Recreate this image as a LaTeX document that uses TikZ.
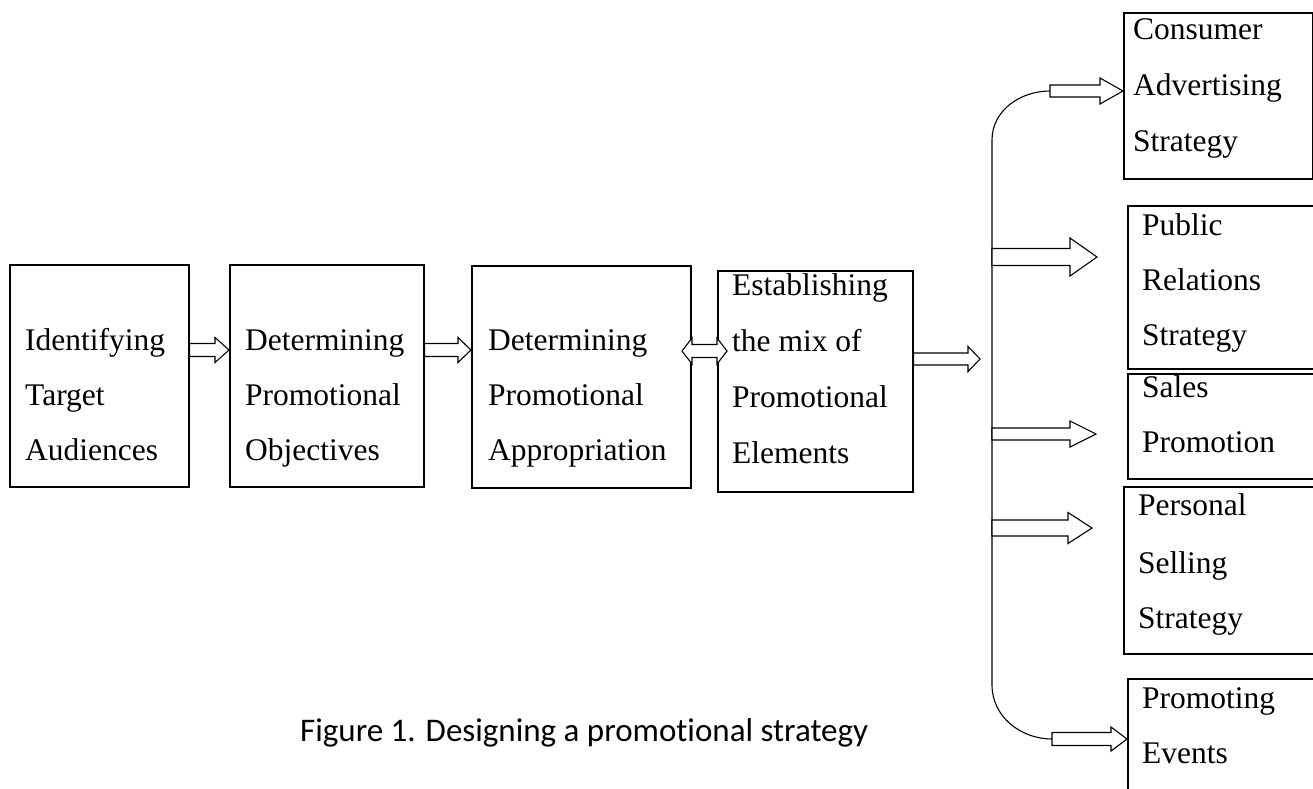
\documentclass[tikz,border=0pt]{standalone}
\usepackage{fontspec}
\setmainfont{Liberation Serif}
\newfontfamily\capfont[Ligatures=NoCommon]{Carlito}
\usetikzlibrary{calc}
\tikzset{
  box/.style={draw=black, line width=1.5pt, fill=none, inner sep=0pt, anchor=north west},
  lbl/.style={inner sep=0pt, anchor=base west, font=\fontsize{31.5}{37}\selectfont},
  arr/.style={draw=black, line width=1.1pt, fill=white, line join=miter},
  spine/.style={draw=black, line width=1.1pt},
}
% block arrow: #1 start point, #2 tip point, #3 y, #4 shaft half, #5 head half, #6 head length
\newcommand\blockarrow[6]{%
  \path[arr] let \p1=(#1), \p2=(#2), \p3=(0,#3) in
    (\x1,\y3+#4) -- (\x2-#6,\y3+#4) -- (\x2-#6,\y3+#5) -- (\x2,\y3)
    -- (\x2-#6,\y3-#5) -- (\x2-#6,\y3-#4) -- (\x1,\y3-#4) -- cycle;}
% double block arrow: #1 left tip, #2 right tip, #3 y, #4 shaft half, #5 head half, #6 head length
\newcommand\dblockarrow[6]{%
  \path[arr] let \p1=(#1), \p2=(#2), \p3=(0,#3) in
    (\x1,\y3) -- (\x1+#6,\y3+#5) -- (\x1+#6,\y3+#4) -- (\x2-#6,\y3+#4) -- (\x2-#6,\y3+#5) -- (\x2,\y3)
    -- (\x2-#6,\y3-#5) -- (\x2-#6,\y3-#4) -- (\x1+#6,\y3-#4) -- (\x1+#6,\y3-#5) -- cycle;}
\begin{document}
\begin{tikzpicture}[x=1pt,y=-1pt]
\useasboundingbox (0,0) rectangle (1313,788);
\clip (0,0) rectangle (1313,788);
\fill[white] (0,0) rectangle (1313,788);

% main row boxes
\node[box, minimum width=179pt, minimum height=222pt] (b1) at (9,264) {};
\node[box, minimum width=194pt, minimum height=222pt] (b2) at (229,264) {};
\node[box, minimum width=219pt, minimum height=222pt] (b3) at (471,265) {};
\node[box, minimum width=195pt, minimum height=221pt] (b4) at (717,270) {};

\node[lbl] (t11) at (25,350) {Identifying};
\node[lbl] (t12) at (25,405) {Target};
\node[lbl] (t13) at (25,460) {Audiences};

\node[lbl] (t21) at (245,350) {Determining};
\node[lbl] (t22) at (245,405) {Promotional};
\node[lbl] (t23) at (245,460) {Objectives};

\node[lbl] (t31) at (488,350) {Determining};
\node[lbl] (t32) at (488,405) {Promotional};
\node[lbl] (t33) at (488,460) {Appropriation};

\node[lbl] (t41) at (732,295) {Establishing};
\node[lbl] (t42) at (732,351) {the mix of};
\node[lbl] (t43) at (732,407) {Promotional};
\node[lbl] (t44) at (732,463) {Elements};

% right column boxes
\node[box, minimum width=189pt, minimum height=166pt] (c1) at (1123,12) {};
\node[box, minimum width=220pt, minimum height=163pt] (c2) at (1127,205) {};
\node[box, minimum width=220pt, minimum height=105pt] (c3) at (1127,373) {};
\node[box, minimum width=220pt, minimum height=167pt] (c4) at (1123,486) {};
\node[box, minimum width=220pt, minimum height=140pt] (c5) at (1127,678) {};

\node[lbl] (u11) at (1133,39) {Consumer};
\node[lbl] (u12) at (1133,95) {Advertising};
\node[lbl] (u13) at (1133,151) {Strategy};

\node[lbl] (u21) at (1142,235) {Public};
\node[lbl] (u22) at (1142,290) {Relations};
\node[lbl] (u23) at (1142,345) {Strategy};

\node[lbl] (u31) at (1142,397) {Sales};
\node[lbl] (u32) at (1142,452) {Promotion};

\node[lbl] (u41) at (1138,515) {Personal};
\node[lbl] (u42) at (1138,573) {Selling};
\node[lbl] (u43) at (1138,628) {Strategy};

\node[lbl] (u51) at (1142,708) {Promoting};
\node[lbl] (u52) at (1142,763) {Events};

% spine coordinates
\coordinate (s1) at (1050,91);
\coordinate (s2) at (992,257);
\coordinate (s3) at (992,434);
\coordinate (s4) at (992,528);
\coordinate (s5) at (1052,739);
\coordinate (sTop) at (992,140);
\coordinate (sBot) at (992,685);
\coordinate (m3) at (980,359);

% spine line
\draw[spine] (s1) to[out=180,in=90] (sTop) -- (sBot) to[out=-90,in=180] (s5);

% main row arrows
\blockarrow{b1.east}{b2.west}{350}{6.5}{12.5}{14}
\blockarrow{b2.east}{b3.west}{350}{6.5}{12.5}{13}
\dblockarrow{682,0}{727,0}{351}{6.5}{13}{10}
\blockarrow{b4.east}{m3}{359}{6}{12.5}{12}

% branch arrows
\blockarrow{s1}{c1.west}{91}{6}{13}{23}
\blockarrow{s2}{1097,0}{257}{8.5}{19}{27}
\blockarrow{s3}{1096,0}{434}{6}{13}{26}
\blockarrow{s4}{1092,0}{528}{8}{15.5}{24}
\blockarrow{s5}{c5.west |- s5}{739}{6.5}{12}{16}

% caption
\node[inner sep=0pt, anchor=base west, font=\capfont\fontsize{33}{40}\selectfont] (cap) at (300,741) {Figure 1. Designing a promotional strategy};
\end{tikzpicture}
\end{document}
